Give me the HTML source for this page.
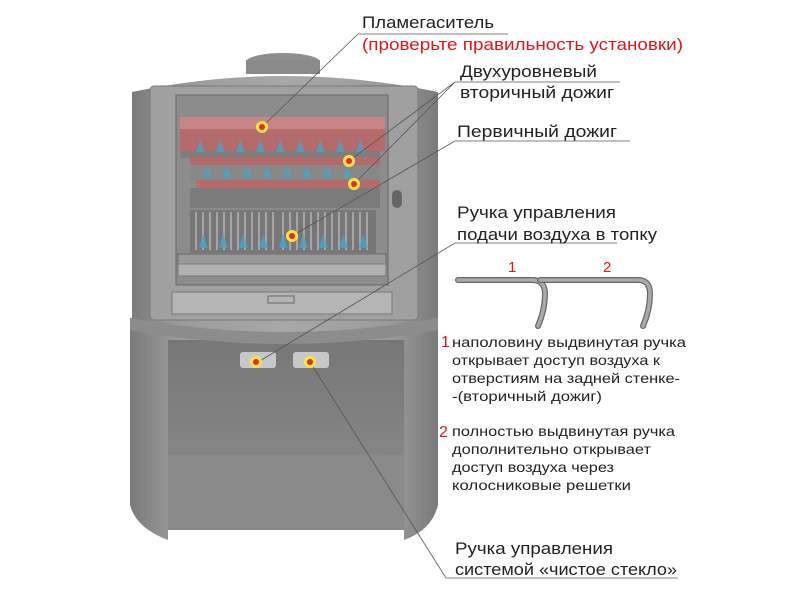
<!DOCTYPE html>
<html><head><meta charset="utf-8"><style>
body{margin:0;background:#fff;width:800px;height:600px;overflow:hidden}
svg{display:block}
text{font-family:"Liberation Sans",sans-serif;fill:#222}
.r{fill:#e0161b}
</style></head><body>
<svg width="800" height="600" viewBox="0 0 800 600">
<defs>
<linearGradient id="body" x1="0" x2="1"><stop offset="0" stop-color="#7a7a7a"/><stop offset=".15" stop-color="#9a9a9a"/><stop offset=".5" stop-color="#a8a8a8"/><stop offset=".85" stop-color="#9a9a9a"/><stop offset="1" stop-color="#7a7a7a"/></linearGradient>
<linearGradient id="cav" x1="0" y1="0" x2="0" y2="1"><stop offset="0" stop-color="#777"/><stop offset="1" stop-color="#8e8e8e"/></linearGradient>
</defs>
<ellipse cx="283" cy="62" rx="37" ry="9" fill="#8e8e8e"/>
<rect x="246" y="60" width="74" height="14" fill="#8a8a8a"/>
<path d="M132 92 Q284 60 438 92 L438 320 L132 320 Z" fill="url(#body)"/>
<path d="M130 318 L438 318 L438 505 Q432 530 404 540 L404 340 L168 340 L168 540 Q136 528 130 505 Z" fill="url(#body)"/>
<rect x="168" y="340" width="236" height="190" fill="url(#cav)"/>
<rect x="168" y="455" width="236" height="75" fill="#8a8a8a"/>
<path d="M130 318 Q284 346 438 318 L438 330 Q284 358 130 330 Z" fill="#8c8c8c"/>
<rect x="150" y="86" width="268" height="234" rx="4" fill="#a0a0a0" stroke="#777"/>
<rect x="176" y="95" width="212" height="190" fill="#8c8c8c" stroke="#666"/>
<rect x="180" y="117" width="205" height="34" fill="#b56b6b"/>
<rect x="180" y="117" width="205" height="12" fill="#c88585"/>
<rect x="180" y="151" width="200" height="7" fill="#7d7d7d"/>
<rect x="190" y="157" width="190" height="8" fill="#b56b6b"/>
<rect x="190" y="165" width="190" height="15" fill="#888"/>
<rect x="196" y="180" width="184" height="8" fill="#b56b6b"/>
<rect x="190" y="188" width="190" height="20" fill="#7b7b7b"/>
<rect x="190" y="210" width="186" height="43" fill="#777"/>
<g stroke="#a5a5a5" stroke-width="2">
<path d="M196 212V250M203 212V250M210 212V250M217 212V250M224 212V250M231 212V250M238 212V250M245 212V250M252 212V250M259 212V250M266 212V250M273 212V250M283 212V250M290 212V250M297 212V250M304 212V250M311 212V250M318 212V250M325 212V250M332 212V250M339 212V250M346 212V250M353 212V250M360 212V250M367 212V250"/>
</g>
<g fill="#4aa3c8" opacity=".8">
<path d="M199 248l4-14 5 14zM219 248l4-14 5 14zM239 248l4-14 5 14zM259 248l4-14 5 14zM279 248l4-14 5 14zM299 248l4-14 5 14zM319 248l4-14 5 14zM339 248l4-14 5 14zM359 248l4-14 5 14z"/>
<path d="M196 152l4-12 5 12zM216 152l4-12 5 12zM236 152l4-12 5 12zM256 152l4-12 5 12zM276 152l4-12 5 12zM296 152l4-12 5 12zM316 152l4-12 5 12zM336 152l4-12 5 12zM356 152l4-12 5 12z"/>
<path d="M203 178l4-12 5 12zM223 178l4-12 5 12zM243 178l4-12 5 12zM263 178l4-12 5 12zM283 178l4-12 5 12zM303 178l4-12 5 12zM323 178l4-12 5 12zM343 178l4-12 5 12z"/>
</g>
<rect x="178" y="254" width="208" height="10" fill="#9a9a9a" stroke="#666"/>
<rect x="178" y="264" width="208" height="12" fill="#b0b0b0" stroke="#777"/>
<rect x="172" y="292" width="220" height="22" fill="#b5b5b5" stroke="#777"/>
<rect x="268" y="296" width="26" height="7" fill="none" stroke="#666"/>
<rect x="392" y="190" width="10" height="18" rx="5" fill="#666"/>
<rect x="240" y="352" width="36" height="16" rx="3" fill="#c8c8c8"/>
<rect x="293" y="352" width="36" height="16" rx="3" fill="#c8c8c8"/>
<g stroke="#555" stroke-width="0.8" fill="none">
<path d="M262 127L358 34H508"/>
<path d="M349 161L455 82H620M354 184L455 82"/>
<path d="M292 236L455 141H630"/>
<path d="M258 362L455 243H617"/>
<path d="M310 362L446 578H678"/>
</g>
<g>
<circle cx="262" cy="127" r="6" fill="#ffe34d"/><circle cx="262" cy="127" r="3" fill="#e0301b"/>
<circle cx="349" cy="161" r="6" fill="#ffe34d"/><circle cx="349" cy="161" r="3" fill="#e0301b"/>
<circle cx="354" cy="184" r="6" fill="#ffe34d"/><circle cx="354" cy="184" r="3" fill="#e0301b"/>
<circle cx="292" cy="236" r="6" fill="#ffe34d"/><circle cx="292" cy="236" r="3" fill="#e0301b"/>
<circle cx="256" cy="362" r="6" fill="#ffe34d"/><circle cx="256" cy="362" r="3" fill="#e0301b"/>
<circle cx="310" cy="362" r="6" fill="#ffe34d"/><circle cx="310" cy="362" r="3" fill="#e0301b"/>
</g>
<g fill="none" stroke-linecap="round">
<path d="M458 280H532Q545 280 545 294Q545 310 538 326" stroke="#666" stroke-width="6"/>
<path d="M458 280H532Q545 280 545 294Q545 310 538 326" stroke="#aaa" stroke-width="3.5"/>
<path d="M540 280H638Q650 280 650 294Q650 310 643 326" stroke="#666" stroke-width="6"/>
<path d="M540 280H638Q650 280 650 294Q650 310 643 326" stroke="#aaa" stroke-width="3.5"/>
</g>
<text x="508" y="272" font-size="15" class="r">1</text>
<text x="603" y="272" font-size="15" class="r">2</text>
<g font-size="17">
<text x="362" y="28" textLength="132" lengthAdjust="spacingAndGlyphs">Пламегаситель</text>
<text x="362" y="50" class="r" textLength="321" lengthAdjust="spacingAndGlyphs">(проверьте правильность установки)</text>
<text x="460" y="77" textLength="137" lengthAdjust="spacingAndGlyphs">Двухуровневый</text>
<text x="460" y="98" textLength="154" lengthAdjust="spacingAndGlyphs">вторичный дожиг</text>
<text x="457" y="137" textLength="160" lengthAdjust="spacingAndGlyphs">Первичный дожиг</text>
<text x="457" y="218" textLength="159" lengthAdjust="spacingAndGlyphs">Ручка управления</text>
<text x="457" y="240" textLength="200" lengthAdjust="spacingAndGlyphs">подачи воздуха в топку</text>
<text x="455" y="554" textLength="158" lengthAdjust="spacingAndGlyphs">Ручка управления</text>
<text x="455" y="575" textLength="222" lengthAdjust="spacingAndGlyphs">системой «чистое стекло»</text>
</g>
<g font-size="14">
<text x="441" y="347" class="r" font-size="16">1</text>
<text x="452" y="347" textLength="234" lengthAdjust="spacingAndGlyphs">наполовину выдвинутая ручка</text>
<text x="452" y="365" textLength="208" lengthAdjust="spacingAndGlyphs">открывает доступ воздуха к</text>
<text x="452" y="383" textLength="228" lengthAdjust="spacingAndGlyphs">отверстиям на задней стенке-</text>
<text x="452" y="401" textLength="150" lengthAdjust="spacingAndGlyphs">-(вторичный дожиг)</text>
<text x="439" y="437" class="r" font-size="16">2</text>
<text x="452" y="436" textLength="223" lengthAdjust="spacingAndGlyphs">полностью выдвинутая ручка</text>
<text x="452" y="454" textLength="199" lengthAdjust="spacingAndGlyphs">дополнительно открывает</text>
<text x="452" y="472" textLength="162" lengthAdjust="spacingAndGlyphs">доступ воздуха через</text>
<text x="452" y="490" textLength="179" lengthAdjust="spacingAndGlyphs">колосниковые решетки</text>
</g>
</svg>
</body></html>
